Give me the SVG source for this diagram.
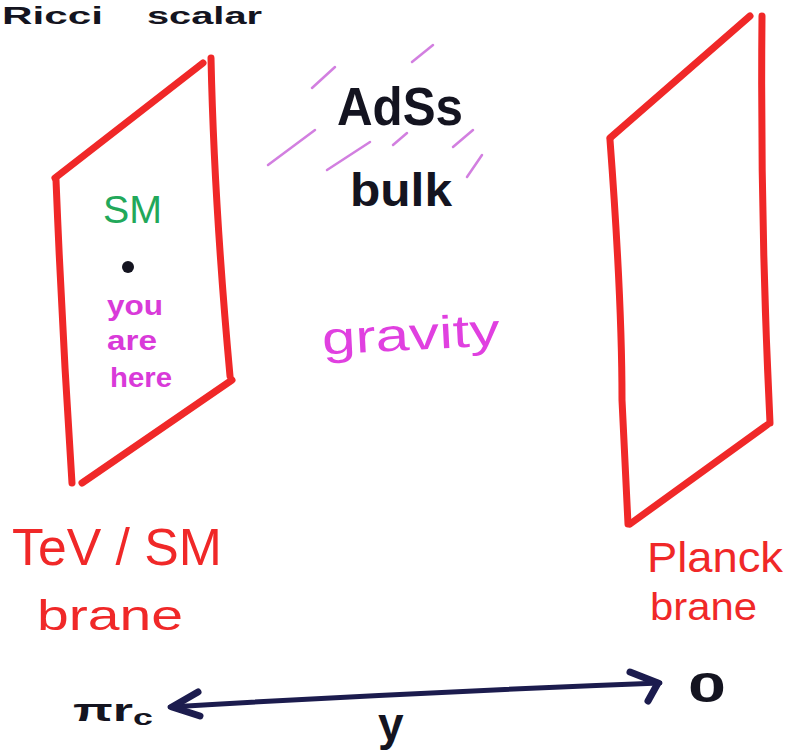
<svg xmlns="http://www.w3.org/2000/svg" width="788" height="754" viewBox="0 0 788 754">
<defs>
<style>
.brane{fill:none;stroke:#f02828;stroke-width:7;stroke-linecap:round;stroke-linejoin:round}
.hand{font-family:"Liberation Sans","Open Sans",sans-serif;font-weight:bold}
.blk{fill:#141420}
.red{fill:#f02828}
.hatch{stroke:#c455d6;stroke-width:2.5;stroke-linecap:round;opacity:0.75}
.axis{fill:none;stroke:#1c1c4e;stroke-width:5;stroke-linecap:round;stroke-linejoin:round}
.head{fill:none;stroke:#1c1c4e;stroke-width:7;stroke-linecap:round;stroke-linejoin:round}
</style>
</defs>
<rect width="788" height="754" fill="#ffffff"/>
<g id="title">
<text class="hand blk" x="2" y="24" font-size="24" textLength="101" lengthAdjust="spacingAndGlyphs">Ricci</text>
<text class="hand blk" x="147" y="24" font-size="24" textLength="115" lengthAdjust="spacingAndGlyphs">scalar</text>
</g>
<g id="tev-brane">
<path class="brane" d="M55,178 L203,63"/>
<path class="brane" d="M211,58 Q214,200 230,376"/>
<path class="brane" d="M232,380 L82,483"/>
<path class="brane" d="M56,180 Q62,330 72,483"/>
<text x="103" y="223" font-size="38" font-family="Liberation Sans, sans-serif" fill="#22a85a" textLength="59" lengthAdjust="spacingAndGlyphs">SM</text>
<circle cx="128" cy="267" r="6" fill="#141420"/>
<g font-family="Liberation Sans, sans-serif" fill="#d93ad9" font-size="28" font-weight="bold">
<text x="107" y="315" textLength="56" lengthAdjust="spacingAndGlyphs">you</text>
<text x="107" y="350" textLength="50" lengthAdjust="spacingAndGlyphs">are</text>
<text x="110" y="387" textLength="62" lengthAdjust="spacingAndGlyphs">here</text>
</g>
</g>
<g id="planck-brane">
<path class="brane" d="M610,138 L750,16"/>
<path class="brane" d="M762,16 Q760,220 770,423"/>
<path class="brane" d="M767,425 L630,524"/>
<path class="brane" d="M610,140 Q622,300 622,400 L628,524"/>
</g>
<g id="bulk">
<path class="hatch" d="M312,88 L335,67"/>
<path class="hatch" d="M412,62 L433,45"/>
<path class="hatch" d="M268,165 L315,130"/>
<path class="hatch" d="M327,170 L370,142"/>
<path class="hatch" d="M393,145 L407,133"/>
<path class="hatch" d="M453,147 L473,130"/>
<path class="hatch" d="M467,177 L482,155"/>
<text class="hand blk" x="337" y="125" font-size="54" textLength="126" lengthAdjust="spacingAndGlyphs">AdSs</text>
<text class="hand blk" x="350" y="206" font-size="46" textLength="102" lengthAdjust="spacingAndGlyphs">bulk</text>
<text transform="rotate(-3 410 340)" x="322" y="350" font-family="Liberation Sans, sans-serif" font-size="46" fill="#e040e0" textLength="178" lengthAdjust="spacingAndGlyphs">gravity</text>
</g>
<g id="tev-label">
<text class="red" font-family="Liberation Sans, sans-serif" x="12" y="565" font-size="52" textLength="210" lengthAdjust="spacingAndGlyphs">TeV / SM</text>
<text class="red" font-family="Liberation Sans, sans-serif" x="37" y="630" font-size="42" textLength="146" lengthAdjust="spacingAndGlyphs">brane</text>
</g>
<g id="planck-label">
<text class="red" font-family="Liberation Sans, sans-serif" x="647" y="572" font-size="42" textLength="136" lengthAdjust="spacingAndGlyphs">Planck</text>
<text class="red" font-family="Liberation Sans, sans-serif" x="650" y="620" font-size="38" textLength="107" lengthAdjust="spacingAndGlyphs">brane</text>
</g>
<g id="connectors">
<path class="axis" d="M170,707 Q420,692 660,683"/>
<path class="head" d="M198,692 L172,707 L200,716"/>
<path class="head" d="M630,672 L658,683 L648,701"/>
</g>
<g id="axis-labels">
<text class="hand blk" x="73" y="721" font-size="32" textLength="80" lengthAdjust="spacingAndGlyphs">πr<tspan font-size="22" dy="4">c</tspan></text>
<text class="hand blk" x="688" y="702" font-size="42" textLength="38" lengthAdjust="spacingAndGlyphs">0</text>
<text class="hand blk" x="378" y="740" font-size="46">y</text>
</g>
</svg>
